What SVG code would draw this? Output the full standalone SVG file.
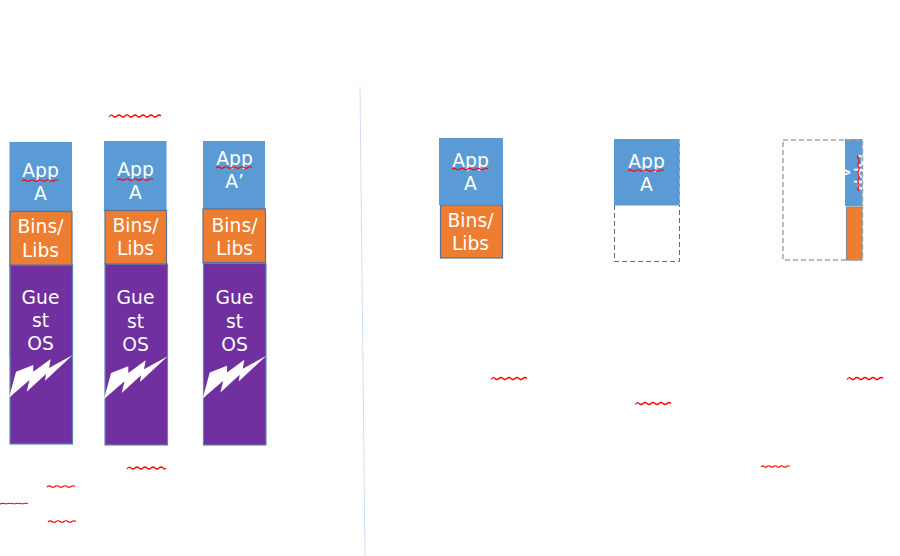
<svg xmlns="http://www.w3.org/2000/svg" width="900" height="556" viewBox="0 0 900 556">
<style>
text{font-family:"DejaVu Sans",sans-serif;font-size:18.7px;fill:#fff;text-anchor:middle}
.app{fill:#5b9bd5}
.bins{fill:#ed7d31;stroke:#5a7195;stroke-width:1.2}
.os{fill:#7030a0;stroke:#5f86b3;stroke-width:1.2}
.dash{fill:none;stroke-dasharray:5 3}
.sq{fill:none;stroke:#f00;stroke-width:1.2}
</style>
<defs>
<polygon id="bolt" fill="#fff" points="9,397.7 16,371.7 33.3,365 33.3,371.7 50.7,359 49,368 72.7,355 45,380.7 46,374 26.7,391.7 29.500,380"/>
<clipPath id="clip6"><rect x="845" y="139" width="18" height="67"/></clipPath>
</defs>
<g id="connectors">
<path d="M360 87L365 556" fill="none" stroke="#cfdff0" stroke-width="1"/>
</g>
<g id="stack1">
<rect class="app" x="9.5" y="142" width="62.5" height="215"/>
<rect class="os" x="10" y="265" width="62.5" height="179"/>
<rect class="bins" x="10" y="211.5" width="62" height="53.5"/>
<use href="#bolt"/>
<text x="40.500" y="177">App</text><text x="40.500" y="200">A</text>
<text x="40.500" y="233">Bins/</text><text x="40.500" y="256.5">Libs</text>
<text x="40.500" y="304">Gue</text><text x="40.500" y="327">st</text><text x="40.500" y="350">OS</text>
</g>
<g id="stack2">
<rect class="app" x="104" y="141" width="62.5" height="70"/>
<rect class="os" x="105" y="264" width="62.5" height="181"/>
<rect class="bins" x="105" y="210.5" width="61.5" height="53.5"/>
<use href="#bolt" transform="translate(95 1.3)"/>
<text x="135.5" y="176">App</text><text x="135.5" y="199">A</text>
<text x="135.5" y="232">Bins/</text><text x="135.5" y="255">Libs</text>
<text x="135.5" y="304">Gue</text><text x="135.5" y="327.5">st</text><text x="135.5" y="350.5">OS</text>
</g>
<g id="stack3">
<rect class="app" x="203" y="141" width="62" height="190"/>
<rect class="os" x="203.500" y="263.500" width="62.5" height="181.500"/>
<rect class="bins" x="203" y="209" width="62.5" height="53.5"/>
<use href="#bolt" transform="translate(193.7 0.7)"/>
<text x="234.5" y="165">App</text><text x="234.5" y="188">A’</text>
<text x="234.5" y="231.5">Bins/</text><text x="234.5" y="255">Libs</text>
<text x="234.5" y="304">Gue</text><text x="234.5" y="327.5">st</text><text x="234.5" y="351">OS</text>
</g>
<g id="stack4">
<rect class="bins" x="440.5" y="205" width="62" height="53"/>
<rect class="app" x="439" y="138" width="64" height="67"/>
<text x="470.5" y="167">App</text><text x="470.5" y="190">A</text>
<text x="470.5" y="226.5">Bins/</text><text x="470.5" y="250">Libs</text>
</g>
<g id="stack5">
<rect class="app" x="614" y="139" width="66" height="66.5"/>
<path class="dash" d="M614.500 205V261.500H679.500V205" stroke="#5f6f79"/>
<path class="dash" d="M679.500 139V205" stroke="#9fb6c9"/>
<text x="646.5" y="168">App</text><text x="646.5" y="191">A</text>
</g>
<g id="stack6">
<rect class="app" x="845" y="139" width="17.5" height="67"/>
<rect class="bins" x="846.5" y="207" width="15.5" height="53" style="stroke:#8c8c8c"/>
<g clip-path="url(#clip6)">
<text transform="translate(858 172.5) rotate(90)" x="0" y="0">App</text>
<text transform="translate(836 172.5) rotate(90)" x="0" y="0">A</text>
</g>
<rect class="dash" x="783" y="140" width="79.5" height="120" stroke="#a5a5a5" stroke-width="1.5"/>
</g>
<g id="squiggles">
<path class="sq" d="M109 117q2-3 4-1t4 0t4 0t4 0t4 0t4 0t4 0t4 0t4 0t4 0t4 0t4 0t4 0"/>
<path class="sq" d="M22 181q2-2 4-.5t4 0t4 0t4 0t4 0t4 0t4 0t4 0t4 0"/>
<path class="sq" d="M117 180q2-2 4-.5t4 0t4 0t4 0t4 0t4 0t4 0t4 0t4 0"/>
<path class="sq" d="M216 168q2-2 4-.5t4 0t4 0t4 0t4 0t4 0t4 0t4 0t4 0"/>
<path class="sq" d="M452 169.500q2-2 4-.5t4 0t4 0t4 0t4 0t4 0t4 0t4 0t4 0"/>
<path class="sq" d="M628 171q2-2 4-.5t4 0t4 0t4 0t4 0t4 0t4 0t4 0t4 0"/>
<path class="sq" d="M858 155q-1 2 .5 4t0 4t0 4t0 4t0 4t0 4t0 4t0 4t0 4"/>
<path class="sq" d="M127 469q2-3 4-1t4 0t4 0t4 0t4 0t4 0t4 0t4 0t4 0t3 0"/>
<path class="sq" d="M47 487q2-2 4-.5t4 0t4 0t4 0t4 0t4 0t4 0"/>
<path class="sq" d="M0 504q2-1 4-.5t4 0t4 0t4 0t4 0t4 0t4 0"/>
<path class="sq" d="M48 522q2-2 4-.5t4 0t4 0t4 0t4 0t4 0t4 0"/>
<path class="sq" d="M491 379.500q2-3 4-1t4 0t4 0t4 0t4 0t4 0t4 0t4 0t4 0"/>
<path class="sq" d="M635 404.500q2-3 4-1t4 0t4 0t4 0t4 0t4 0t4 0t4 0t4 0"/>
<path class="sq" d="M847 379.500q2-3 4-1t4 0t4 0t4 0t4 0t4 0t4 0t4 0t4 0"/>
<path class="sq" d="M761 467q2-2 3-.5t3.200 0t3.200 0t3.200 0t3.200 0t3.200 0t3.200 0t3.200 0t3.200 0"/>
</g>
</svg>
